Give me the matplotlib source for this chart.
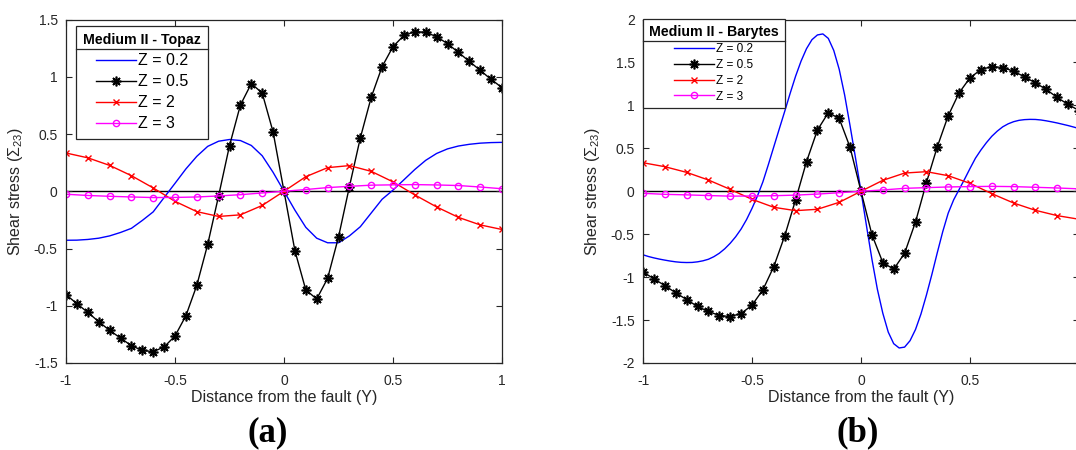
import matplotlib
matplotlib.use('Agg')
import matplotlib.pyplot as plt
from matplotlib.lines import Line2D
import numpy as np

plt.rcParams['font.family'] = ['Liberation Sans', 'DejaVu Sans']
plt.rcParams['axes.unicode_minus'] = False
plt.rcParams['mathtext.fontset'] = 'custom'
plt.rcParams['mathtext.rm'] = 'Liberation Sans'
plt.rcParams['mathtext.it'] = 'Liberation Sans:italic'

# sampling positions along the fault-normal distance
y_fine = np.round(np.arange(-1, 1.0001, 0.05), 3)
y_fine2 = np.round(np.arange(-1, 1.0001, 0.025), 3)
y_coarse = np.round(np.arange(-1, 1.0001, 0.1), 3)

# ---- Medium II - Topaz ----
topaz_z02 = [-0.428, -0.427, -0.421, -0.410, -0.390, -0.360, -0.324, -0.255,
             -0.180, -0.055, 0.069, 0.195, 0.305, 0.392, 0.437, 0.452,
             0.443, 0.400, 0.310, 0.165, 0.000, -0.165, -0.315, -0.410,
             -0.450, -0.450, -0.390, -0.310, -0.190, -0.070, 0.010, 0.100,
             0.190, 0.270, 0.330, 0.370, 0.395, 0.410, 0.420, 0.425, 0.427]
topaz_z05 = [-0.903, -0.982, -1.058, -1.139, -1.215, -1.282, -1.349, -1.390,
             -1.401, -1.360, -1.264, -1.087, -0.822, -0.464, -0.040, 0.398,
             0.753, 0.940, 0.858, 0.517, 0.000, -0.519, -0.862, -0.941,
             -0.761, -0.400, 0.040, 0.465, 0.820, 1.088, 1.263, 1.361,
             1.394, 1.388, 1.350, 1.289, 1.213, 1.134, 1.056, 0.977, 0.905]
topaz_z2 = [0.334, 0.292, 0.226, 0.136, 0.029, -0.088, -0.178, -0.220,
            -0.206, -0.124, 0.000, 0.127, 0.206, 0.224, 0.174, 0.082,
            -0.032, -0.137, -0.228, -0.294, -0.334]
topaz_z3 = [-0.026, -0.037, -0.044, -0.050, -0.055, -0.054, -0.050, -0.041,
            -0.030, -0.015, 0.000, 0.015, 0.032, 0.043, 0.053, 0.056,
            0.058, 0.055, 0.050, 0.037, 0.022]

# ---- Medium II - Barytes ----
barytes_z02 = [-0.740, -0.760, -0.776, -0.790, -0.802, -0.813, -0.822, -0.828,
               -0.830, -0.829, -0.822, -0.810, -0.792, -0.762, -0.722, -0.670,
               -0.606, -0.530, -0.440, -0.330, -0.200, -0.055, 0.110, 0.310,
               0.518, 0.725, 0.930, 1.140, 1.340, 1.515, 1.660, 1.765,
               1.820, 1.832, 1.780, 1.640, 1.420, 1.120, 0.760, 0.385,
               0.000, -0.400, -0.790, -1.140, -1.420, -1.640, -1.775, -1.825,
               -1.815, -1.740, -1.610, -1.430, -1.210, -0.970, -0.715, -0.470,
               -0.255, -0.100, 0.020, 0.140, 0.265, 0.385, 0.480, 0.565,
               0.640, 0.700, 0.750, 0.785, 0.810, 0.826, 0.834, 0.837,
               0.836, 0.830, 0.820, 0.808, 0.795, 0.780, 0.765, 0.748, 0.730]
barytes_z05 = [-0.939, -1.020, -1.098, -1.183, -1.261, -1.342, -1.400, -1.447,
               -1.459, -1.424, -1.327, -1.148, -0.877, -0.520, -0.100, 0.344,
               0.712, 0.914, 0.848, 0.510, 0.000, -0.505, -0.830, -0.908,
               -0.722, -0.358, 0.100, 0.518, 0.879, 1.146, 1.321, 1.417,
               1.452, 1.441, 1.398, 1.332, 1.262, 1.185, 1.092, 1.011, 0.940]
barytes_z2 = [0.332, 0.286, 0.220, 0.131, 0.022, -0.094, -0.187, -0.226,
              -0.210, -0.129, 0.000, 0.127, 0.212, 0.228, 0.181, 0.092,
              -0.028, -0.137, -0.222, -0.284, -0.326]
barytes_z3 = [-0.024, -0.036, -0.042, -0.050, -0.057, -0.055, -0.052, -0.045,
              -0.033, -0.017, 0.000, 0.015, 0.034, 0.042, 0.050, 0.054,
              0.057, 0.054, 0.046, 0.038, 0.028]

z_labels = ['Z = 0.2', 'Z = 0.5', 'Z = 2', 'Z = 3']

AX_W = 436 / 1076
AX_H = 343.5 / 450
AX_B = 87 / 450


def add_separator(fig, leg):
    # thin rule between the legend title and its entries
    fig.canvas.draw()
    r = fig.canvas.get_renderer()
    box = leg.get_frame().get_window_extent(r)
    tb = leg.get_title().get_window_extent(r)
    y = tb.y0 - 2
    inv = fig.transFigure.inverted()
    x0, y0 = inv.transform((box.x0, y))
    x1, _ = inv.transform((box.x1, y))
    fig.add_artist(Line2D([x0, x1], [y0, y0], color='#262626', lw=0.9,
                          transform=fig.transFigure))


def panel(fig, left, z02_x, z02, z05, z2, z3, ylim, yticks, title,
          leg_anchor, leg_fs, leg_sp, leg_pad, tag, tag_x):
    ax = fig.add_axes([left, AX_B, AX_W, AX_H])
    ax.plot(z02_x, z02, color='b', lw=1.0, label=z_labels[0])
    ax.plot(y_fine, z05, color='k', lw=1.0, marker=(8, 2, 0), ms=7,
            mew=1.2, label=z_labels[1])
    ax.plot(y_coarse, z2, color='r', lw=1.0, marker='x', ms=4.5, mew=1.0,
            label=z_labels[2])
    ax.plot(y_coarse, z3, color='#ff00ff', lw=1.0, marker='o', ms=4.5,
            mfc='none', mew=1.0, label=z_labels[3])
    ax.axhline(0, color='k', lw=1.0, zorder=1)

    ax.set_xlim(-1, 1)
    ax.set_ylim(*ylim)
    ax.set_xticks([-1, -0.5, 0, 0.5, 1])
    ax.set_xticklabels(['-1', '-0.5', '0', '0.5', '1'])
    ax.set_yticks(yticks)
    ax.set_yticklabels(['%g' % t for t in yticks])
    ax.tick_params(direction='in', top=True, right=True, length=4,
                   width=0.8, labelsize=10, colors='#262626')
    ax.tick_params(axis='x', pad=8)
    ax.tick_params(axis='y', pad=6)
    for s in ax.spines.values():
        s.set_color('#262626')
        s.set_linewidth(0.9)

    ax.set_xlabel('Distance from the fault (Y)', fontsize=11.5,
                  color='#262626')
    ax.xaxis.set_label_coords(0.5, -0.08)
    ax.set_ylabel(r'Shear stress ($\Sigma_{23}$)', fontsize=11.5,
                  color='#262626')
    ax.yaxis.set_label_coords(-0.095, 0.5)

    leg = ax.legend(loc='upper left', bbox_to_anchor=leg_anchor,
                    borderaxespad=0, fontsize=leg_fs, title=title,
                    title_fontproperties={'weight': 'bold', 'size': 10.2},
                    fancybox=False, framealpha=1, edgecolor='#262626',
                    handlelength=40 / (leg_fs * 100 / 72),
                    handletextpad=0.15, labelspacing=leg_sp,
                    borderpad=leg_pad)
    leg.get_frame().set_linewidth(0.9)

    ax.text(tag_x, -0.204, tag, transform=ax.transAxes, ha='center',
            va='center', fontsize=25, fontweight='bold',
            family='Liberation Serif')
    return ax, leg


fig = plt.figure(figsize=(10.76, 4.5), dpi=100)

ax_a, leg_a = panel(fig, 66 / 1076, y_fine, topaz_z02, topaz_z05, topaz_z2,
                    topaz_z3, (-1.5, 1.5), [-1.5, -1, -0.5, 0, 0.5, 1, 1.5],
                    'Medium II - Topaz', (0.023, 0.981), 11.5, 0.38, 0.45,
                    '(a)', 0.463)
ax_b, leg_b = panel(fig, 643 / 1076, y_fine2, barytes_z02, barytes_z05,
                    barytes_z2, barytes_z3, (-2, 2),
                    [-2, -1.5, -1, -0.5, 0, 0.5, 1, 1.5, 2],
                    'Medium II - Barytes', (0.0, 1.0), 8.5, 0.32, 0.5,
                    '(b)', 0.493)

add_separator(fig, leg_a)
add_separator(fig, leg_b)

fig.savefig('out.png', dpi=100)
